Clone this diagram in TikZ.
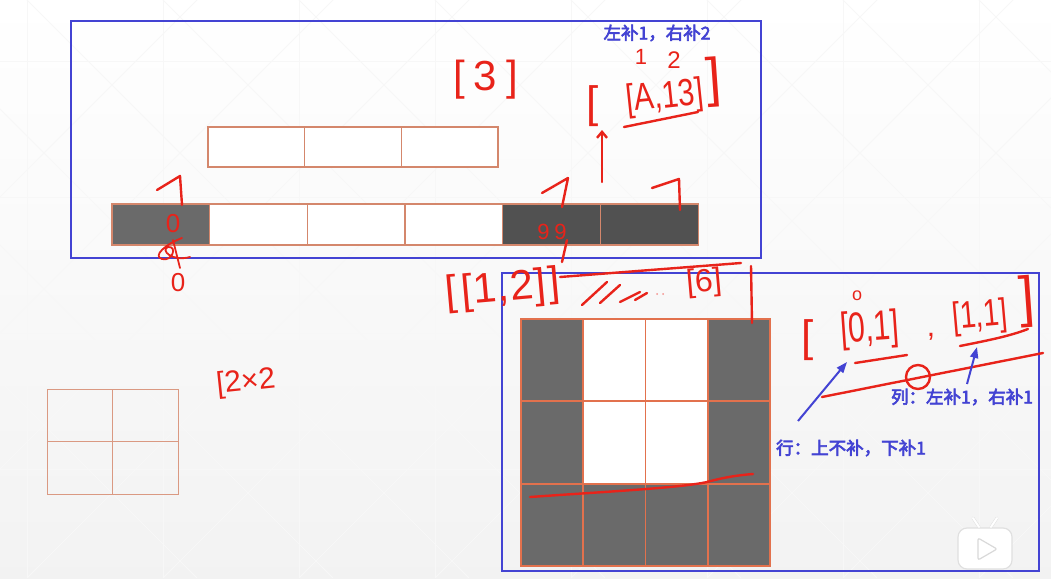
\documentclass[tikz,border=0pt]{standalone}
\usepackage{fontspec}
\setmainfont{Liberation Sans}
\newfontfamily\cjk[AutoFakeBold=3.5]{Noto Sans CJK SC}
\usepackage{xcolor}
\usetikzlibrary{arrows.meta,positioning,calc}

\definecolor{frameblue}{HTML}{4343D3}
\definecolor{inkred}{HTML}{E8231A}
\definecolor{cellline}{HTML}{D4876C}
\definecolor{gridline}{HTML}{E2714D}
\definecolor{padgray}{HTML}{6A6A6A}
\definecolor{padgraydk}{HTML}{515151}

\begin{document}
\begin{tikzpicture}[
    x=1pt, y=-1pt,
    frame/.style={draw=frameblue, line width=2pt},
    cellA/.style={draw=cellline, line width=1.3pt, fill=white, minimum width=96.7pt,
                  minimum height=40pt, inner sep=0pt, outer sep=0pt},
    seqcell/.style={draw=cellline, line width=1.3pt, fill=white, minimum width=97.7pt,
                    minimum height=41pt, inner sep=0pt, outer sep=0pt},
    gcell/.style={draw=gridline, line width=1.8pt, fill=white, minimum width=62.25pt,
                  minimum height=82.3pt, inner sep=0pt, outer sep=0pt},
    qcell/.style={draw=cellline!85, line width=1pt, minimum width=65.5pt,
                  minimum height=52.5pt, inner sep=0pt, outer sep=0pt},
    pad/.style={fill=padgray},
    paddk/.style={fill=padgraydk},
    ink/.style={draw=inkred, line width=2.4pt, line cap=round, line join=round},
    inktext/.style={text=inkred, inner sep=0pt, font=\fontsize{#1}{#1}\selectfont},
    inktext/.default=30,
    note/.style={text=frameblue, inner sep=0pt, font=\cjk\bfseries\fontsize{17.5}{18}\selectfont},
    bluearr/.style={-{Triangle[length=11pt,width=8pt]}, draw=frameblue, line width=2pt}
]
\useasboundingbox (0,0) rectangle (1051,578);

%% Background
\shade[top color=white, bottom color=black!5] (0,0) rectangle (1051,578);
\foreach \i in {27,163,...,1051} \draw[black!3, line width=0.8pt] (\i,0) -- (\i,578);
\foreach \j in {61,197,333,469} \draw[black!3, line width=0.8pt] (0,\j) -- (1051,\j);
\foreach \i in {-381,-245,...,1051} {
  \draw[black!3, line width=0.8pt] (\i,0) -- ++(578,578);
  \draw[black!3, line width=0.8pt] (\i+578,0) -- ++(-578,578);
}

%% Kernel row (3)
\node[cellA] (k1) at (256.35,147) {};
\node[cellA, right=0pt of k1] (k2) {};
\node[cellA, right=0pt of k2] (k3) {};

%% Padded input row
\node[seqcell, pad] (s1) at (160.85,224.5) {};
\node[seqcell, right=0pt of s1] (s2) {};
\node[seqcell, right=0pt of s2] (s3) {};
\node[seqcell, right=0pt of s3] (s4) {};
\node[seqcell, paddk, right=0pt of s4] (s5) {};
\node[seqcell, paddk, right=0pt of s5] (s6) {};

%% 2x2 kernel
\node[qcell] (q11) at (79.75,415.25) {};
\node[qcell, right=0pt of q11] (q12) {};
\node[qcell, below=0pt of q11] (q21) {};
\node[qcell, right=0pt of q21] (q22) {};

%% Padded 2x2 input
\node[gcell, pad] (g11) at (552.1,360.2) {};
\node[gcell, right=0pt of g11] (g12) {};
\node[gcell, right=0pt of g12] (g13) {};
\node[gcell, pad, right=0pt of g13] (g14) {};
\node[gcell, pad, below=0pt of g11] (g21) {};
\node[gcell, right=0pt of g21] (g22) {};
\node[gcell, right=0pt of g22] (g23) {};
\node[gcell, pad, right=0pt of g23] (g24) {};
\node[gcell, pad, below=0pt of g21] (g31) {};
\node[gcell, pad, right=0pt of g31] (g32) {};
\node[gcell, pad, right=0pt of g32] (g33) {};
\node[gcell, pad, right=0pt of g33] (g34) {};

%% Frames
\draw[frame] (71,21) rectangle (761,258);
\draw[frame] (502,273) rectangle (1039,571);

%% Handwriting, 1-D case
\node[inktext=42] (len3) at (486,80) {[\hspace{8pt}3\hspace{10pt}]};
\node[inktext=44] (lbrA) at (593,106) {[};
\node[inktext=38, rotate=6] (idxA) at (665,98) {\scalebox{0.78}[1]{[A,13]}};
\node[inktext=54, rotate=4] (rbrA) at (714,82) {]};
\node[inktext=22] (padl) at (641,57) {1};
\node[inktext=24] (padr) at (674,60) {2};
\draw[ink] (624,127) -- (698,112);
\draw[ink, -{Straight Barb[length=6pt,width=10pt]}] (602,182) -- (602,130);

\draw[ink] (157,190) -- (180,176) -- (182,205);
\draw[ink] (542,193) -- (568,178) -- (562,207);
\draw[ink] (652,188) -- (679,179) -- (680,210);
\node[inktext=26] (z1) at (173,224) {0};
\draw[ink, line width=1.8pt] (182,238) .. controls (166,244) and (152,256) .. (162,259)
  .. controls (172,262) and (178,246) .. (168,247) .. controls (160,250) and (172,262) .. (190,257);
\draw[ink, line width=1.8pt] (173,240) -- (180,268);
\node[inktext=26] (z2) at (178,283) {0};
\node[inktext=22] (n99) at (552,232) {9\hspace{5pt}9};
\draw[ink] (567,240) -- (562,262);

%% Handwriting, output positions
\node[inktext=42, rotate=5] (out12) at (503,290) {[\hspace{4pt}[\hspace{1pt}1,\hspace{2pt}2]\hspace{3pt}]};
\draw[ink] (560,277) -- (741,263);
\draw[ink] (582,305) -- (607,282);
\draw[ink] (600,303) -- (620,285);
\draw[ink] (620,302) -- (640,292);
\draw[ink] (635,300) -- (647,293);
\fill[inkred!50] (657,294) circle (1pt) (663,294) circle (1pt);
\node[inktext=32, rotate=5] (out6) at (704,283) {[6]};
\draw[ink] (751,266) -- (752,323);

%% Handwriting, 2-D case
\node[inktext=44] (lbrB) at (808,340) {[};
\node[inktext=42, rotate=4] (idx01) at (870,330) {\scalebox{0.72}[1]{[0,1]}};
\node[inktext=18] (zsmall) at (857,296) {o};
\node[inktext=30] (comma) at (931,337) {,};
\node[inktext=38, rotate=5] (idx11) at (980,317) {\scalebox{0.75}[1]{[1,1]}};
\node[inktext=56, rotate=4] (rbrB) at (1027,302) {]};
\draw[ink] (855,363) -- (907,355);
\draw[ink] (960,346) .. controls (990,340) and (1010,336) .. (1028,329);
\draw[ink] (822,397) -- (1043,353);
\draw[ink] (918,377) circle (12pt);
\draw[ink] (530,497) .. controls (600,492) and (680,488) .. (707,482) .. controls (725,477) and (740,475) .. (753,474);
\node[inktext=30, rotate=6] (k2x2) at (246,383) {[2×2};

%% Notes
\node[note] (padnote) at (657,33) {左补1，右补2};
\node[note] (colnote) at (962,397) {列：左补1，右补1};
\node[note] (rownote) at (851,448) {行：上不补，下补1};
\coordinate (rowtail) at (798,421);
\coordinate (rowtip) at (847,362);
\coordinate (coltail) at (967,384);
\coordinate (coltip) at (977,347);
\draw[bluearr] (rowtail) -- (rowtip);
\draw[bluearr] (coltail) -- (coltip);

%% Player badge
\draw[black!12, line width=1.2pt, fill=white, rounded corners=9pt] (958,528) rectangle (1012,569);
\draw[black!12, line width=3pt, line cap=round] (973,518) -- (979,527) (997,518) -- (991,527);
\draw[white, line width=2pt, line cap=round] (973,518) -- (979,527) (997,518) -- (991,527);
\draw[black!15, line width=1.2pt, rounded corners=2pt, fill=white] (978,538) -- (978,560) -- (997,549) -- cycle;

\end{tikzpicture}
\end{document}
